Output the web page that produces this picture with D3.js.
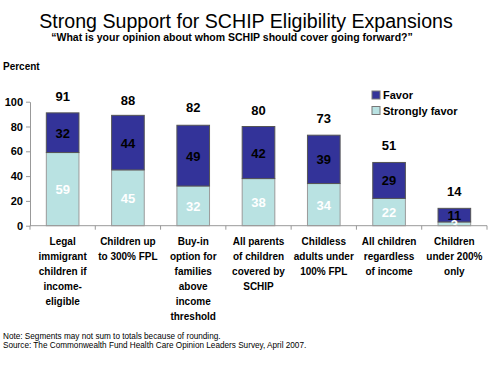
<!DOCTYPE html>
<html><head><meta charset="utf-8">
<script src="https://cdn.jsdelivr.net/npm/d3@7"></script>
<style>body{margin:0;background:#fff}svg{display:block;font-family:Arial,"Liberation Sans",sans-serif}</style>
</head><body><svg id="c" width="490" height="367"></svg>
<script>
const categories = [
  ["Legal","immigrant","children if","income-","eligible"],
  ["Children up","to 300% FPL"],
  ["Buy-in","option for","families","above","income","threshold"],
  ["All parents","of children","covered by","SCHIP"],
  ["Childless","adults under","100% FPL"],
  ["All children","regardless","of income"],
  ["Children","under 200%","only"]
];
const stronglyFavor = [59,45,32,38,34,22,3];
const favor = [32,44,49,42,39,29,11];
const totals = [91,88,82,80,73,51,14];
const yTicks = [0,20,40,60,80,100];

const svg = d3.select("#c");
const x = d3.scaleBand().domain(d3.range(categories.length)).range([30,487]).paddingInner(0.5).paddingOuter(0.25);
const y = d3.scaleLinear().domain([0,100]).range([225.7,101.7]);

svg.append("text").attr("x",246).attr("y",28).attr("text-anchor","middle").attr("font-size",19.6).text("Strong Support for SCHIP Eligibility Expansions");
svg.append("text").attr("x",232).attr("y",41).attr("text-anchor","middle").attr("font-size",10.5).attr("font-weight","bold").text("\u201cWhat is your opinion about whom SCHIP should cover going forward?\u201d");
svg.append("text").attr("x",3).attr("y",70).attr("font-size",10).attr("font-weight","bold").text("Percent");

// bars
const g = svg.append("g");
categories.forEach((c,i)=>{
  g.append("rect").attr("x",x(i)).attr("width",x.bandwidth()).attr("y",y(stronglyFavor[i])).attr("height",y(0)-y(stronglyFavor[i]))
    .attr("fill","#b9e2e2").attr("stroke","#9a9a9a").attr("stroke-width",1);
  g.append("rect").attr("x",x(i)).attr("width",x.bandwidth()).attr("y",y(stronglyFavor[i]+favor[i])).attr("height",y(0)-y(favor[i]))
    .attr("fill","#333399").attr("stroke","#555").attr("stroke-width",1);
  const cx = x(i)+x.bandwidth()/2;
  g.append("text").attr("x",cx).attr("y",y(stronglyFavor[i]/2)+5).attr("text-anchor","middle").attr("font-size",13).attr("font-weight","bold").attr("fill","#fff").text(stronglyFavor[i]);
  g.append("text").attr("x",cx).attr("y",y(stronglyFavor[i]+favor[i]/2)+5).attr("text-anchor","middle").attr("font-size",13).attr("font-weight","bold").attr("fill","#000").text(favor[i]);
  g.append("text").attr("x",cx).attr("y",y(totals[i])-12).attr("text-anchor","middle").attr("font-size",13).attr("font-weight","bold").attr("fill","#000").text(totals[i]);
  const t = g.append("text").attr("text-anchor","middle").attr("font-size",10).attr("font-weight","bold");
  c.forEach((line,k)=>t.append("tspan").attr("x",cx).attr("y",245+k*15).text(line));
});

// axes
const ax = svg.append("g").attr("transform","translate(30,0)").call(d3.axisLeft(y).tickValues(yTicks).tickSize(4).tickSizeOuter(0));
ax.select(".domain").attr("stroke","#999");
ax.selectAll(".tick line").attr("stroke","#999");
ax.selectAll("text").attr("font-size",11).attr("font-weight","bold").attr("fill","#000").attr("font-family","Arial,'Liberation Sans',sans-serif");
const bx = d3.scaleLinear().domain([0,categories.length]).range([30,487]);
svg.append("line").attr("x1",30).attr("x2",487).attr("y1",y(0)).attr("y2",y(0)).attr("stroke","#999");
svg.selectAll(".xt").data(d3.range(categories.length+1)).join("line").attr("x1",d=>bx(d)).attr("x2",d=>bx(d)).attr("y1",y(0)).attr("y2",y(0)+4).attr("stroke","#999");

// legend
const legend = [["Favor","#333399"],["Strongly favor","#b9e2e2"]];
legend.forEach((l,i)=>{
  svg.append("rect").attr("x",372).attr("y",91+i*15.5).attr("width",8).attr("height",8).attr("fill",l[1]).attr("stroke","#777");
  svg.append("text").attr("x",383).attr("y",99+i*15.5).attr("font-size",11).attr("font-weight","bold").text(l[0]);
});

svg.append("text").attr("x",3).attr("y",339).attr("font-size",8.2).text("Note: Segments may not sum to totals because of rounding.");
svg.append("text").attr("x",3).attr("y",348).attr("font-size",8.2).text("Source: The Commonwealth Fund Health Care Opinion Leaders Survey, April 2007.");
</script></body></html>
